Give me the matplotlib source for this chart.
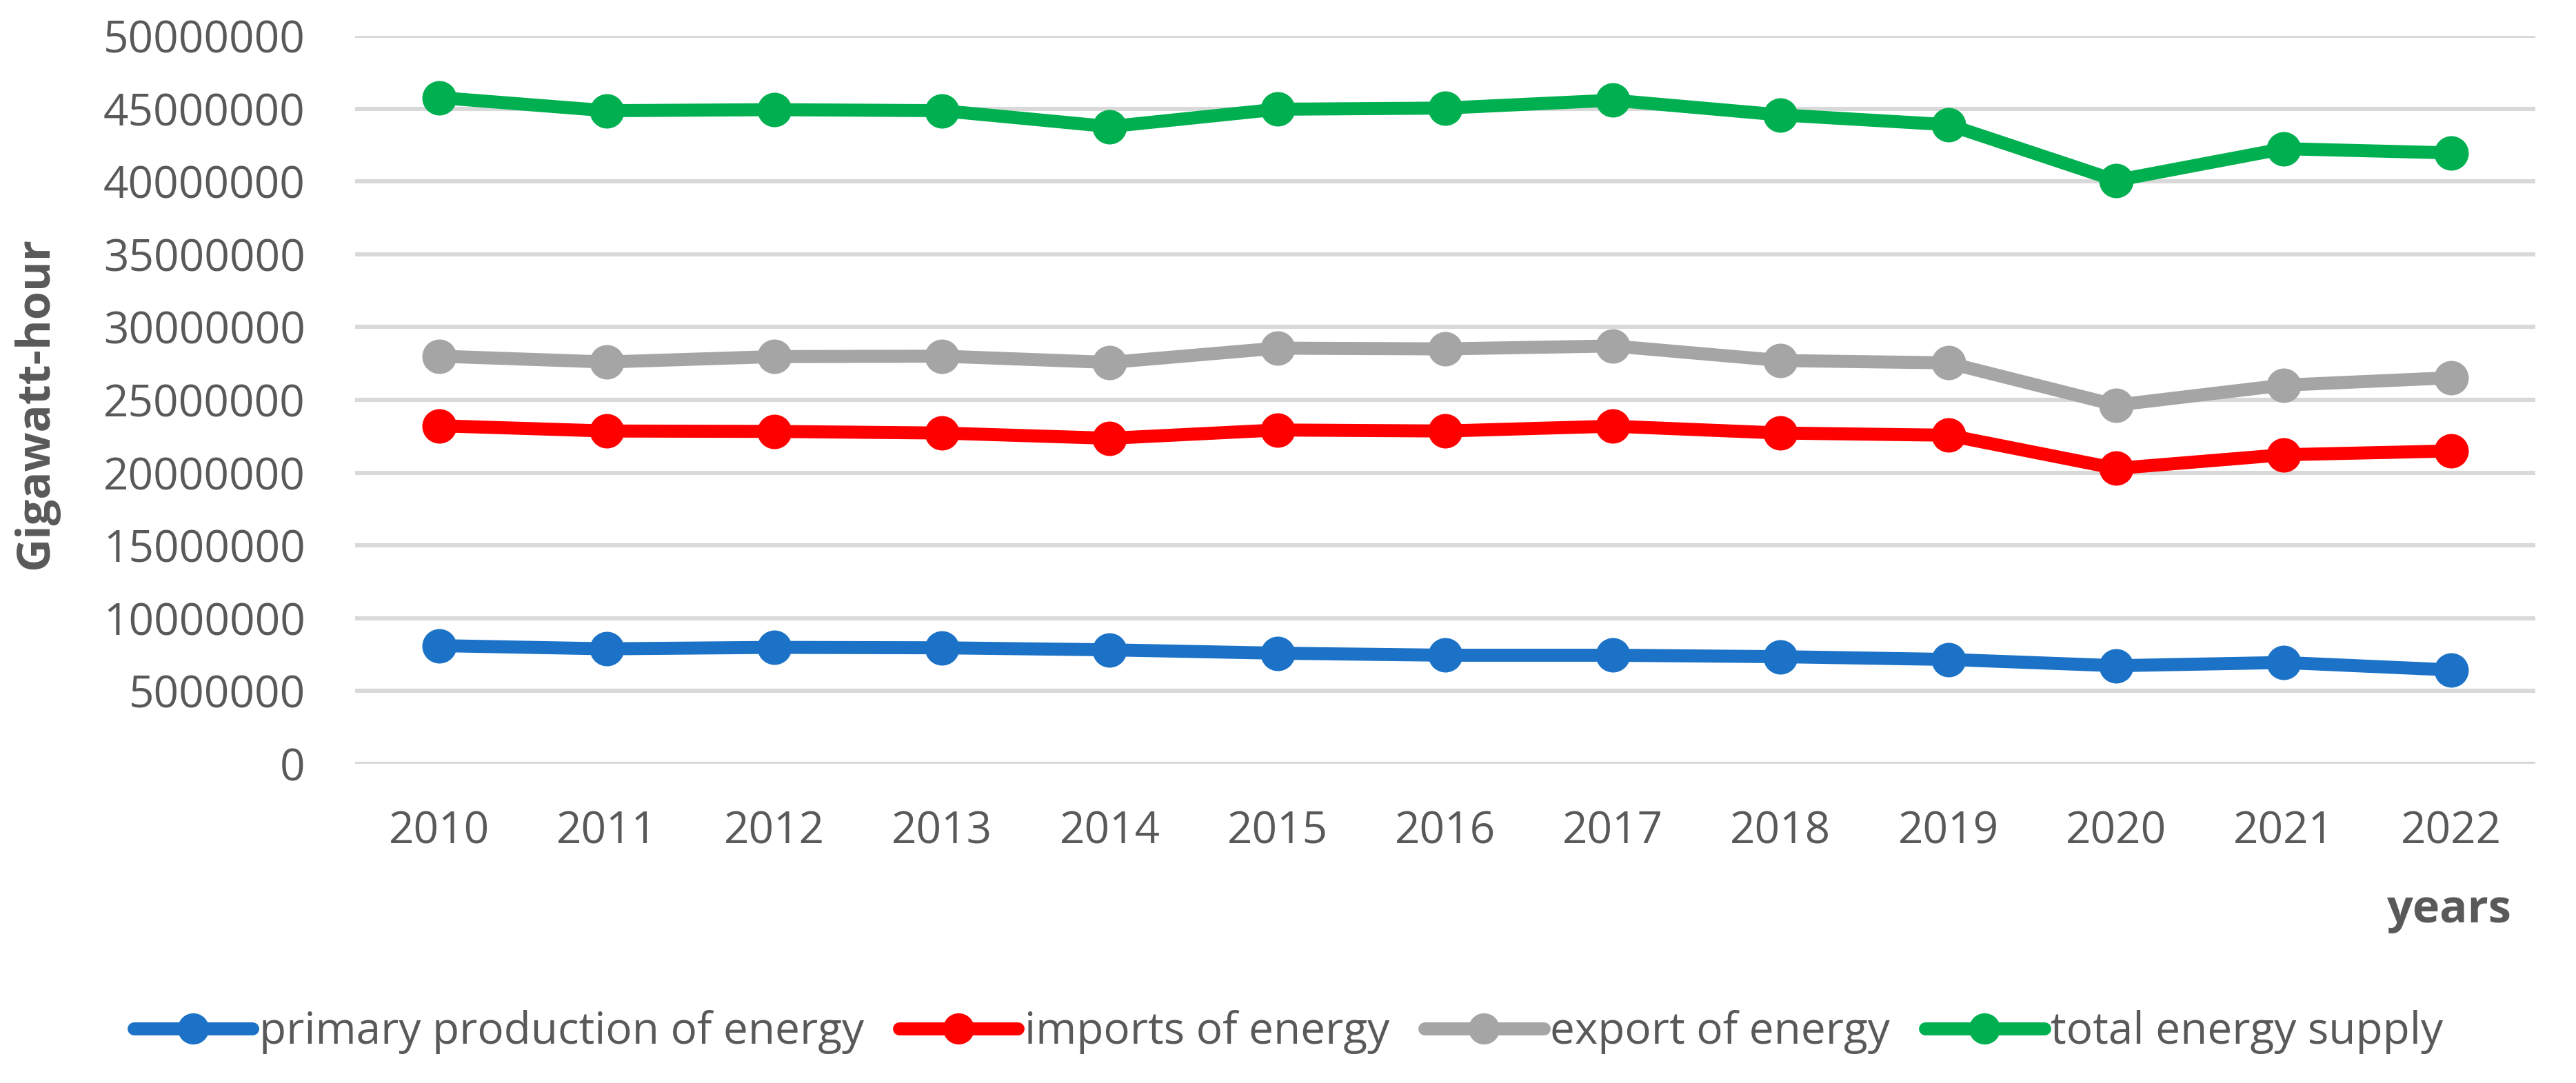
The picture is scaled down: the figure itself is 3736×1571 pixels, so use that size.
import numpy as np
import matplotlib.pyplot as plt
from matplotlib.ticker import FuncFormatter

years = ["2010", "2011", "2012", "2013", "2014", "2015", "2016",
         "2017", "2018", "2019", "2020", "2021", "2022"]

# GWh
primary_production = [8120000, 7900000, 8000000, 7970000, 7830000, 7600000, 7460000,
                      7460000, 7360000, 7170000, 6740000, 6960000, 6450000]
imports = [23220000, 22860000, 22830000, 22720000, 22360000, 22930000, 22860000,
           23190000, 22720000, 22570000, 20290000, 21230000, 21490000]
exports = [28000000, 27600000, 27970000, 28000000, 27570000, 28550000, 28500000,
           28700000, 27700000, 27540000, 24640000, 26010000, 26520000]
total_supply = [45760000, 44860000, 44930000, 44860000, 43770000, 44960000, 45040000,
                45580000, 44570000, 43900000, 40070000, 42250000, 41960000]

series_names = ["primary production of energy", "imports of energy",
                "export of energy", "total energy supply"]
series_colors = ["#1B72C6", "#FF0000", "#A5A5A5", "#00B050"]

text_color = "#595959"
plt.rcParams["font.family"] = ["Open Sans", "DejaVu Sans"]

fig = plt.figure(figsize=(18.685, 7.855), dpi=200)
ax = fig.add_axes([0.1378, 0.2947, 0.9839 - 0.1378, 0.9669 - 0.2947])

x = np.arange(len(years))
for vals, name, col in zip([primary_production, imports, exports, total_supply],
                           series_names, series_colors):
    ax.plot(x, vals, color=col, lw=6.8, marker="o", markersize=17,
            label=name, solid_capstyle="round", zorder=3)

ax.set_xlim(-0.5, len(years) - 0.5)
ax.set_ylim(0, 50000000)
ax.set_yticks(np.arange(0, 50000001, 5000000))
ax.yaxis.set_major_formatter(FuncFormatter(lambda v, p: f"{int(v)}"))
ax.set_xticks(x)
ax.set_xticklabels(years)
ax.grid(axis="y", color="#D9D9D9", lw=2.2, zorder=0)
ax.set_axisbelow(True)
for s in ax.spines.values():
    s.set_visible(False)
ax.tick_params(axis="both", length=0, labelsize=23, labelcolor=text_color)
ax.tick_params(axis="y", pad=26)
ax.tick_params(axis="x", pad=24)

fig.text(52 / 3737, 1 - 585 / 1571, "Gigawatt-hour", rotation=90, ha="center",
         va="center", fontsize=24, fontweight="bold", color=text_color)
fig.text(3642 / 3737, 1 - 1321 / 1571, "years", ha="right", va="center",
         fontsize=24, fontweight="bold", color=text_color)

leg = fig.legend(loc="center", bbox_to_anchor=(0.5, 1 - 1497 / 1571), ncol=4,
                 frameon=False, fontsize=23, handlelength=2.7, handletextpad=0.15,
                 columnspacing=0.8, markerscale=0.9)
for t in leg.get_texts():
    t.set_color(text_color)

fig.savefig("out.png", dpi=200)
